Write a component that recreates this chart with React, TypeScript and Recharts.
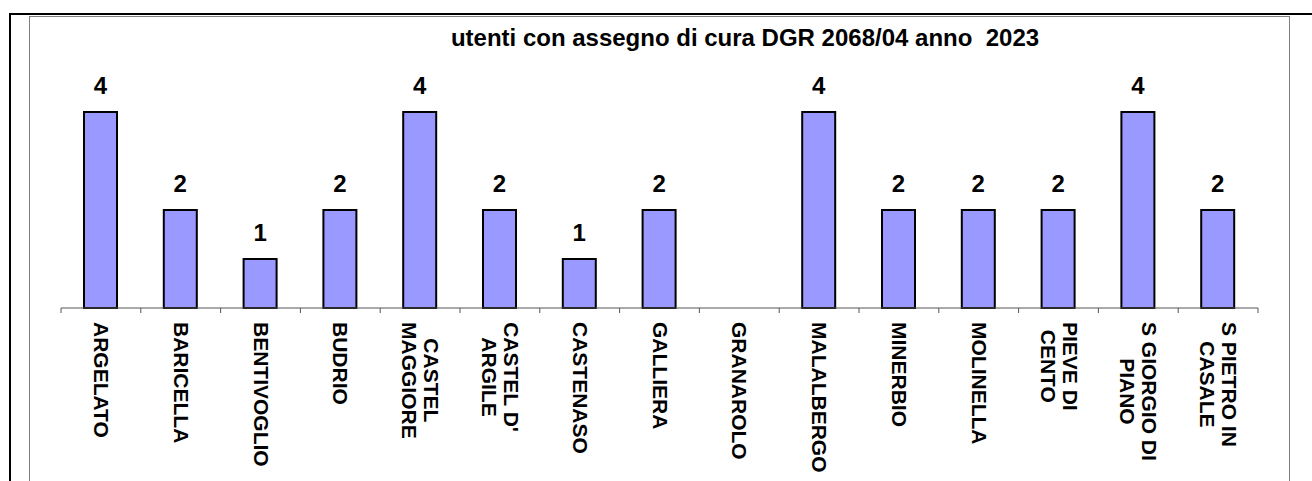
import React from "react";
import { BarChart, Bar, XAxis, YAxis, LabelList } from "recharts";

const comuni = [
  "ARGELATO",
  "BARICELLA",
  "BENTIVOGLIO",
  "BUDRIO",
  "CASTEL MAGGIORE",
  "CASTEL D' ARGILE",
  "CASTENASO",
  "GALLIERA",
  "GRANAROLO",
  "MALALBERGO",
  "MINERBIO",
  "MOLINELLA",
  "PIEVE DI CENTO",
  "S GIORGIO DI PIANO",
  "S PIETRO IN CASALE",
];
const utenti = [4, 2, 1, 2, 4, 2, 1, 2, 0, 4, 2, 2, 2, 4, 2];
const titolo = "utenti con assegno di cura DGR 2068/04 anno  2023";

const data = comuni.map((name, i) => ({ name, utenti: utenti[i] }));

const W = 1312;
const H = 481;
const M = { top: 63, right: 54, left: 61, bottom: 0 };
const AXIS_H = 173;
const AXIS_Y = H - AXIS_H;
const BAND = (W - M.left - M.right) / comuni.length;
const FONT = '"Liberation Sans", Arial, sans-serif';
const LABEL_SIZE = 21;
const LINE_H = 22;
const MAX_LINE = 155;

let ctx: CanvasRenderingContext2D | null = null;
const measure = (s: string) => {
  if (!ctx) ctx = document.createElement("canvas").getContext("2d");
  if (!ctx) return s.length * LABEL_SIZE * 0.65;
  ctx.font = `bold ${LABEL_SIZE}px ${FONT}`;
  return ctx.measureText(s).width;
};

// a capo come fa Excel: parole finché ci stanno
const wrap = (s: string) => {
  const out: string[] = [];
  let cur = "";
  for (const w of s.split(" ")) {
    const next = cur ? cur + " " + w : w;
    if (cur && measure(next) > MAX_LINE) {
      out.push(cur);
      cur = w;
    } else cur = next;
  }
  out.push(cur);
  return out;
};

const CategoryTick = (props: any) => {
  const { x, payload, index } = props;
  const lines = wrap(String(payload.value));
  const widest = Math.max(...lines.map(measure));
  const n = lines.length;
  return (
    <g>
      <line x1={x - BAND / 2} y1={AXIS_Y} x2={x - BAND / 2} y2={AXIS_Y + 5} stroke="#555" />
      {index === comuni.length - 1 && (
        <line x1={x + BAND / 2} y1={AXIS_Y} x2={x + BAND / 2} y2={AXIS_Y + 5} stroke="#555" />
      )}
      <g transform={`translate(${x},${AXIS_Y + 14}) rotate(90)`}>
        {lines.map((l, i) => (
          <text
            key={i}
            x={widest / 2}
            y={-((n - 1) / 2) * LINE_H + i * LINE_H + 7}
            textAnchor="middle"
            fontFamily={FONT}
            fontWeight="bold"
            fontSize={LABEL_SIZE}
            fill="#000"
          >
            {l}
          </text>
        ))}
      </g>
    </g>
  );
};

export default function App() {
  return (
    <div style={{ position: "absolute", left: 0, top: 0, width: W, height: H, overflow: "hidden", background: "#fff" }}>
      <div style={{ position: "absolute", left: 9, top: 13, width: 1400, height: 600, border: "2px solid #000" }} />
      <div style={{ position: "absolute", left: 29, top: 16, width: 1259, height: 600, border: "1px solid #808080" }} />
      <div
        style={{
          position: "absolute",
          left: 445,
          width: 600,
          top: 26,
          textAlign: "center",
          fontFamily: FONT,
          fontWeight: "bold",
          fontSize: 24,
          lineHeight: "23px",
          whiteSpace: "pre",
        }}
      >
        {titolo}
      </div>
      <div style={{ position: "absolute", left: 0, top: 0 }}>
        <BarChart width={W} height={H} data={data} margin={M}>
          <XAxis
            dataKey="name"
            height={AXIS_H}
            interval={0}
            tickLine={false}
            axisLine={{ stroke: "#555" }}
            tick={<CategoryTick />}
          />
          <YAxis hide domain={[0, 5]} />
          <Bar dataKey="utenti" fill="#9999FF" stroke="#000" strokeWidth={2} barSize={33} isAnimationActive={false}>
            <LabelList
              dataKey="utenti"
              position="top"
              offset={18}
              formatter={(v: any) => (v ? v : "")}
              fontFamily={FONT}
              fontWeight="bold"
              fontSize={24}
              fill="#000"
            />
          </Bar>
        </BarChart>
      </div>
    </div>
  );
}
